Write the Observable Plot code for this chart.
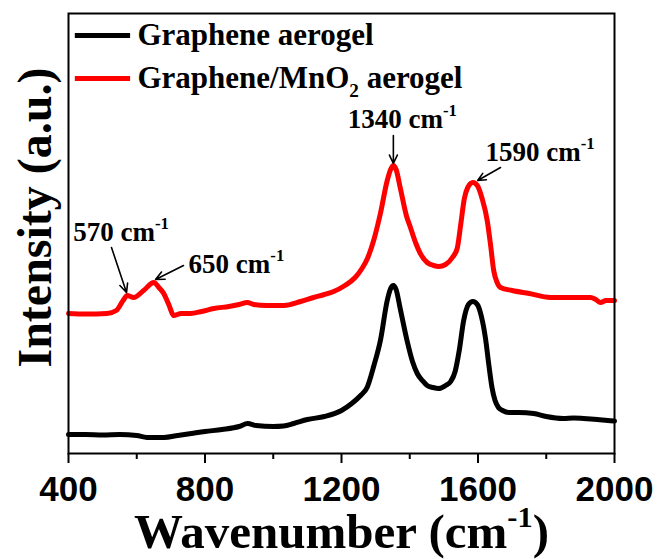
<!DOCTYPE html>
<html><head><meta charset="utf-8">
<script src="https://cdn.jsdelivr.net/npm/d3@7"></script>
<script src="https://cdn.jsdelivr.net/npm/@observablehq/plot@0.6"></script>
<style>body{margin:0;background:#fff} svg{display:block}</style>
</head><body><div id="chart"></div>
<script>
// Graphene aerogel (black)
const wnBlack = [400,450,500,550,600,630,680,720,760,800,850,900,925,950,1000,1030,1060,1100,1150,1200,1230,1256,1275,1295,1314,1334,1344,1352,1360,1372,1392,1408,1422,1437,1451,1468,1485,1505,1520,1533,1545,1558,1572,1585,1598,1610,1622,1632,1641,1650,1660,1672,1690,1720,1763,1800,1850,1880,1909,1950,1980,2000];
const intBlack = [19,19,18.5,19,18,16,16,18,20,22,24,27,30,28,27,27.5,30,34,37,43,50,58,66,88,113,153,165,168,164,145,113,92,80,73,68,66,65,68,72,82,103,133,149,152,149,137,115,88,66,53,46,43,41,41,40,37,35,35.5,35,34,33,32.5];
// Graphene/MnO2 aerogel (red)
const wnRed = [400,450,513,540,560,572,591,620,650,665,679,695,708,730,757,790,826,870,900,924,943,980,1031,1080,1118,1150,1177,1210,1240,1260,1276,1295,1314,1334,1344,1352,1360,1372,1390,1402,1418,1431,1451,1470,1485,1505,1525,1539,1549,1560,1570,1585,1598,1612,1627,1637,1646,1656,1666,1700,1750,1812,1870,1930,1945,1959,1975,2000];
const intRed = [140,139.5,140,143,153,158,156,163,171,166,160,148,138,140,140,142,145,147,149,151,149,148,148,152,156,159,162,168,176,185,195,214,240,273,284,288,284,266,238,226,210,200,191,188,187,189,196,205,228,255,266,271,268,255,233,208,183,171,166,163,160,156,156,156,154,151,153,153];

const seriesNames = ["Graphene aerogel", "Graphene/MnO_{2} aerogel"];
const seriesColors = ["#000000", "#ff0000"];
const majorTicks = [400, 800, 1200, 1600, 2000];
const minorTicks = [600, 1000, 1400, 1800];

// annotations (text start position, baseline)
const annText = ["570 cm^{-1}", "650 cm^{-1}", "1340 cm^{-1}", "1590 cm^{-1}"];
const annX = [414, 752, 1218, 1622];
const annY = [213, 181, 326, 293];
// arrows
const arrX1 = [526, 737, 1352, 1666];
const arrY1 = [206, 188, 318, 286];
const arrX2 = [570, 655, 1352, 1599];
const arrY2 = [161, 174, 290, 273];

// legend
const legendY = [418, 375];
const legendX1 = [420, 420];
const legendX2 = [582, 582];
const legendTextX = [602, 602];

const black = wnBlack.map((x, i) => ({x, y: intBlack[i]}));
const red = wnRed.map((x, i) => ({x, y: intRed[i]}));
const idx = [0, 1];
const serif = "'Liberation Serif', 'Times New Roman', serif";

const chart = Plot.plot({
  width: 660,
  height: 559,
  marginLeft: 68,
  marginRight: 46,
  marginTop: 13,
  marginBottom: 106,
  x: {domain: [400, 2000], axis: null},
  y: {domain: [0, 440], axis: null},
  style: {background: "#fff", color: "#000"},
  marks: [
    Plot.line(black, {x: "x", y: "y", stroke: seriesColors[0], strokeWidth: 5, curve: "monotone-x"}),
    Plot.line(red, {x: "x", y: "y", stroke: seriesColors[1], strokeWidth: 5, curve: "monotone-x"}),
    Plot.frame({stroke: "#000", strokeWidth: 2}),
    Plot.axisX({ticks: majorTicks, tickSize: 10, tickPadding: 13, strokeWidth: 2, fontSize: 35, fontFamily: "'Liberation Sans', Arial, sans-serif", fontWeight: "bold", label: null, tickFormat: d => String(d)}),
    Plot.axisX({ticks: minorTicks, tickSize: 6, strokeWidth: 2, text: null, label: null}),
    Plot.text(["Wavenumber (cm^{-1})"], {frameAnchor: "bottom", dy: 94, lineAnchor: "bottom", fontSize: 49, fontFamily: serif, fontWeight: "bold"}),
    Plot.text(["Intensity (a.u.)"], {frameAnchor: "left", textAnchor: "middle", rotate: -90, dx: -33, dy: -16, lineAnchor: "middle", fontSize: 48, fontFamily: serif, fontWeight: "bold"}),
    Plot.ruleY(idx, {y: i => legendY[i], x1: i => legendX1[i], x2: i => legendX2[i], stroke: i => seriesColors[i], strokeWidth: 5}),
    Plot.text(idx, {x: i => legendTextX[i], y: i => legendY[i], text: i => seriesNames[i], textAnchor: "start", lineAnchor: "middle", fontSize: 31, fontFamily: serif, fontWeight: "bold"}),
    Plot.arrow(annText.map((_, i) => i), {x1: i => arrX1[i], y1: i => arrY1[i], x2: i => arrX2[i], y2: i => arrY2[i], stroke: "#000", strokeWidth: 1.6, headLength: 9, headAngle: 50}),
    Plot.text(annText.map((_, i) => i), {x: i => annX[i], y: i => annY[i], text: i => annText[i], textAnchor: "start", lineAnchor: "bottom", fontSize: 27, fontFamily: serif, fontWeight: "bold"})
  ]
});
document.getElementById("chart").appendChild(chart);

// rich text: ^{..} superscript, _{..} subscript
function richText(svg) {
  svg.querySelectorAll("text").forEach(t => {
    const s = t.textContent;
    if (!/[\^_]\{/.test(s)) return;
    const fs = parseFloat(getComputedStyle(t).fontSize);
    while (t.firstChild) t.removeChild(t.firstChild);
    const re = /([\^_])\{([^}]*)\}/g;
    let last = 0, m, shift = 0;
    const add = (txt, kind) => {
      if (!txt) return;
      const sp = document.createElementNS("http://www.w3.org/2000/svg", "tspan");
      sp.textContent = txt;
      let target = 0;
      if (kind === "^") { target = -0.42 * fs; sp.setAttribute("font-size", (0.62 * fs) + "px"); }
      if (kind === "_") { target = 0.28 * fs; sp.setAttribute("font-size", (0.62 * fs) + "px"); }
      const d = target - shift;
      if (d !== 0) sp.setAttribute("dy", d + "px");
      shift = target;
      t.appendChild(sp);
    };
    while ((m = re.exec(s))) {
      add(s.slice(last, m.index), null);
      add(m[2], m[1]);
      last = re.lastIndex;
    }
    add(s.slice(last), null);
  });
}
richText(chart);
</script>
</body></html>
